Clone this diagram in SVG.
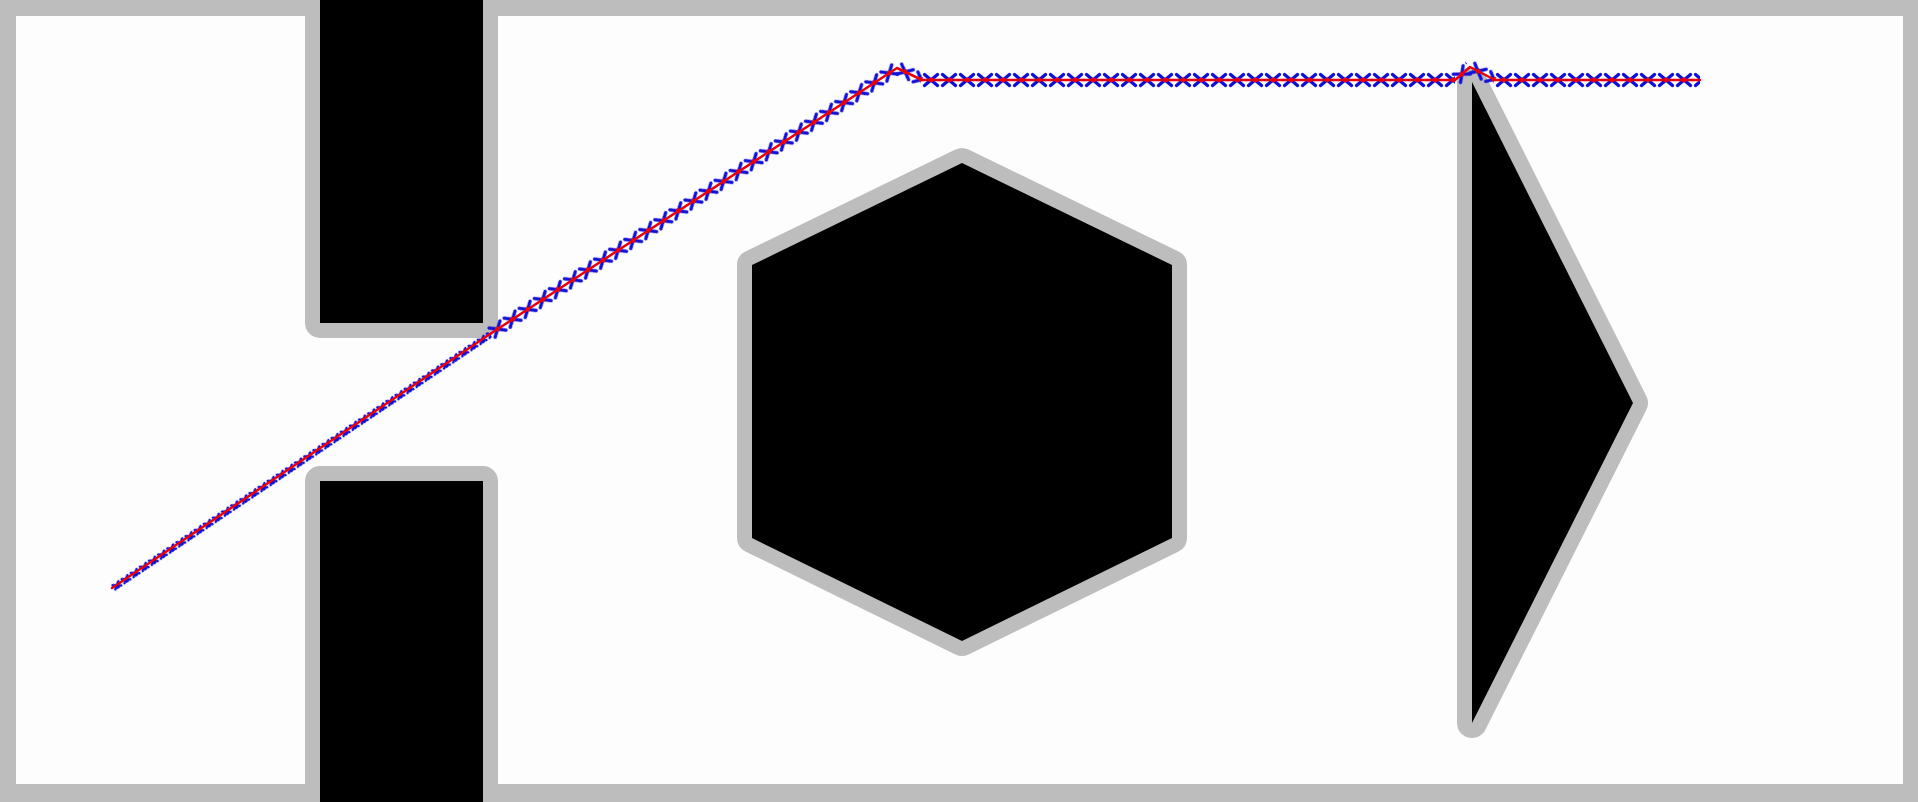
<svg xmlns="http://www.w3.org/2000/svg" width="1918" height="802" viewBox="0 0 1918 802">
<style>
.halo{fill:#bdbdbd;stroke:#bdbdbd;stroke-width:30;stroke-linejoin:round}
.solid{fill:#000}
.wire{fill:none;stroke:#e8000b;stroke-width:2.5;stroke-linejoin:round;stroke-linecap:round}
</style>
<defs>
<pattern id="coilL" patternUnits="userSpaceOnUse" x="0" y="-8" width="18" height="16">
<path d="M2.5,2.5 L15.5,13.5 M2.5,13.5 L15.5,2.5" stroke="#1010d8" stroke-width="3.4" stroke-linecap="round" fill="none"/>
<circle cx="9" cy="8" r="2.4" fill="#e8000b"/>
</pattern>
<pattern id="coilS" patternUnits="userSpaceOnUse" x="0" y="-5" width="11" height="10">
<path d="M2,3 L9,8 M2,8 L9,3" stroke="#1010d8" stroke-width="2.6" stroke-linecap="round" fill="none"/>
<circle cx="5.5" cy="7" r="2.2" fill="#1010d8"/>
</pattern>
</defs>
<g id="frame">
<rect x="0" y="0" width="1918" height="802" fill="#bdbdbd"/>
<rect x="16" y="16" width="1887" height="768" fill="#fdfdfd"/>
</g>
<g id="wall-top">
<rect class="halo" x="320" y="-20" width="163" height="343"/>
<rect class="solid" x="320" y="0" width="163" height="323"/>
</g>
<g id="wall-bottom">
<rect class="halo" x="320" y="481" width="163" height="340"/>
<rect class="solid" x="320" y="481" width="163" height="321"/>
</g>
<g id="hexagon">
<polygon class="halo" points="962,163 1172,265 1172,538 962,641 752,538 752,265"/>
<polygon class="solid" points="962,163 1172,265 1172,538 962,641 752,538 752,265"/>
</g>
<g id="triangle">
<polygon class="halo" points="1472,82 1633,403 1472,723"/>
<polygon class="solid" points="1472,82 1633,403 1472,723"/>
</g>
<g id="connectors">
<g transform="translate(112,588) rotate(-33.9)"><rect x="0" y="-5" width="455.4" height="10" fill="url(#coilS)"/></g>
<g transform="translate(490,334) rotate(-33.17)"><rect x="0" y="-8" width="486.2" height="16" fill="url(#coilL)"/></g>
<g transform="translate(897,68) rotate(25.6)"><rect x="0" y="-8" width="27.7" height="16" fill="url(#coilL)"/></g>
<g transform="translate(922,80)"><rect x="0" y="-8" width="533" height="16" fill="url(#coilL)"/></g>
<g transform="translate(1455,80) rotate(-40.9)"><rect x="0" y="-8" width="19.8" height="16" fill="url(#coilL)"/></g>
<g transform="translate(1470,67) rotate(27.5)"><rect x="0" y="-8" width="28.2" height="16" fill="url(#coilL)"/></g>
<g transform="translate(1495,80)"><rect x="0" y="-8" width="205" height="16" fill="url(#coilL)"/></g>
<polyline class="wire" points="112,588 490,334 897,68 922,80 1455,80 1470,67 1495,80 1700,80"/>
</g>
</svg>
